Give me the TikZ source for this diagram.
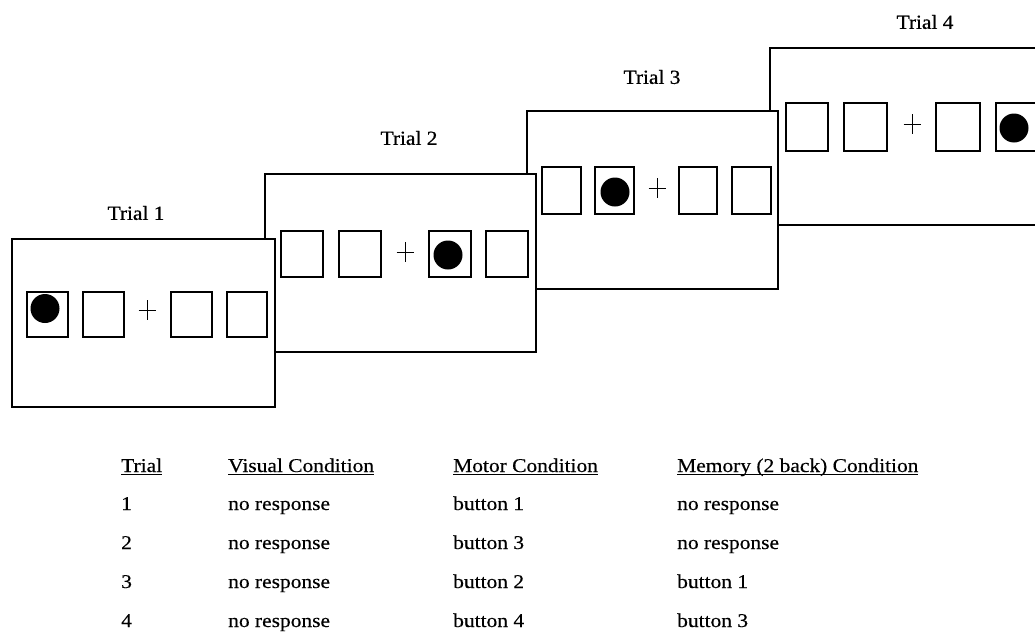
\documentclass[tikz,border=0pt]{standalone}
\usepackage{fontspec}
\setmainfont{Liberation Serif}
\newfontfamily\tabfont[FakeStretch=1.1,FakeBold=0.4]{Liberation Serif}
\newfontfamily\lblfont[FakeStretch=1.07,FakeBold=0.6]{Liberation Serif}
\newcommand\hdrul[1]{\setbox0\hbox{#1}\rlap{\rule[-2.8pt]{\wd0}{1.1pt}}\box0}
\begin{document}
\begin{tikzpicture}[x=1pt,y=-1pt,
  screen/.style={draw,line width=1.4pt,fill=white},
  box/.style={draw,line width=1.3pt},
  dot/.style={fill=black},
  fix/.style={line width=1pt},
  lbl/.style={inner sep=0,font=\lblfont\fontsize{20}{24}\selectfont},
  cell/.style={anchor=base west,inner sep=0,font=\tabfont\fontsize{19.5}{23}\selectfont}]
\useasboundingbox (0,0) rectangle (1035,632);
\clip (0,0) rectangle (1035,632);
% ---------- screen 4 (back)
\draw[screen] (770,48) rectangle (1060,225);
\draw[box] (786,103) rectangle (828,151);
\draw[box] (844,103) rectangle (887,151);
\draw[box] (936,103) rectangle (980,151);
\draw[box] (996,103) rectangle (1038,151);
\fill[dot] (1014,128) circle (14.5);
\draw[fix] (903.5,124) -- (920.5,124) (912,114) -- (912,134);
\node[lbl] (t4) at (925,22) {Trial 4};
% ---------- screen 3
\draw[screen] (527,111) rectangle (778,289);
\draw[box] (542,167) rectangle (581,214);
\draw[box] (595,167) rectangle (634,214);
\draw[box] (679,167) rectangle (717,214);
\draw[box] (732,167) rectangle (771,214);
\fill[dot] (615,192) circle (14.5);
\draw[fix] (648.5,188) -- (665.5,188) (657,178) -- (657,198);
\node[lbl] (t3) at (652,77) {Trial 3};
% ---------- screen 2
\draw[screen] (265,174) rectangle (536,352);
\draw[box] (281,231) rectangle (323,277);
\draw[box] (339,231) rectangle (381,277);
\draw[box] (429,231) rectangle (471,277);
\draw[box] (486,231) rectangle (528,277);
\fill[dot] (448,255) circle (14.5);
\draw[fix] (396.5,252) -- (413.5,252) (405,242) -- (405,262);
\node[lbl] (t2) at (409,138) {Trial 2};
% ---------- screen 1 (front)
\draw[screen] (12,239) rectangle (275,407);
\draw[box] (27,292) rectangle (68,337);
\draw[box] (83,292) rectangle (124,337);
\draw[box] (171,292) rectangle (212,337);
\draw[box] (227,292) rectangle (267,337);
\fill[dot] (45,308.5) circle (14.5);
\draw[fix] (138.5,310) -- (155.5,310) (147,300) -- (147,320);
\node[lbl] (t1) at (136,213) {Trial 1};
% ---------- table
\node[cell] (h1) at (121,472) {\hdrul{Trial}};
\node[cell] (h2) at (228,472) {\hdrul{Visual Condition}};
\node[cell] (h3) at (453,472) {\hdrul{Motor Condition}};
\node[cell] (h4) at (677,472) {\hdrul{Memory (2 back) Condition}};
\node[cell] (a1) at (121,510) {1};
\node[cell] (b1) at (228,510) {no response};
\node[cell] (c1) at (453,510) {button 1};
\node[cell] (d1) at (677,510) {no response};
\node[cell] (a2) at (121,549) {2};
\node[cell] (b2) at (228,549) {no response};
\node[cell] (c2) at (453,549) {button 3};
\node[cell] (d2) at (677,549) {no response};
\node[cell] (a3) at (121,588) {3};
\node[cell] (b3) at (228,588) {no response};
\node[cell] (c3) at (453,588) {button 2};
\node[cell] (d3) at (677,588) {button 1};
\node[cell] (a4) at (121,627) {4};
\node[cell] (b4) at (228,627) {no response};
\node[cell] (c4) at (453,627) {button 4};
\node[cell] (d4) at (677,627) {button 3};
\end{tikzpicture}
\end{document}
